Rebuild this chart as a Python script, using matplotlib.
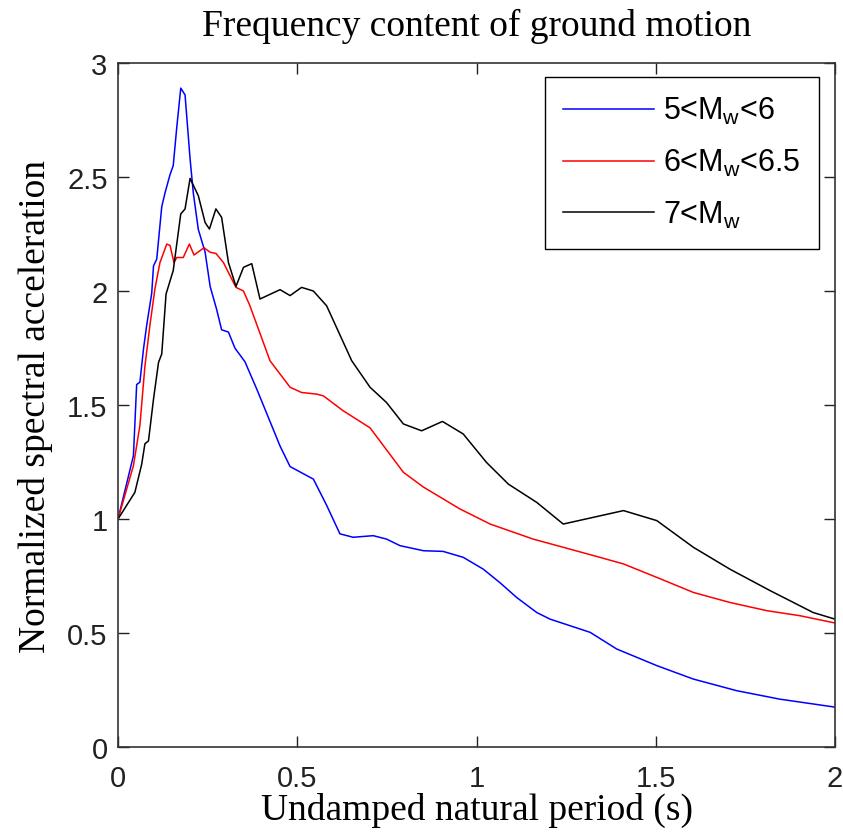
import matplotlib
matplotlib.use("Agg")
import matplotlib.pyplot as plt

# datos
t_blue = [0.0, 0.043, 0.052, 0.061, 0.071, 0.080, 0.094, 0.099, 0.108, 0.122, 0.131,
          0.145, 0.154, 0.164, 0.175, 0.187, 0.201, 0.210, 0.224, 0.243, 0.257, 0.275,
          0.289, 0.308, 0.326, 0.354, 0.387, 0.452, 0.480, 0.545, 0.582, 0.619, 0.656,
          0.712, 0.749, 0.787, 0.852, 0.907, 0.963, 1.019, 1.066, 1.112, 1.168, 1.205,
          1.317, 1.391, 1.503, 1.605, 1.726, 1.846, 2.0]
sa_blue = [1.0, 1.278, 1.59, 1.60, 1.745, 1.85, 1.99, 2.11, 2.14, 2.37, 2.43,
           2.51, 2.55, 2.72, 2.89, 2.86, 2.58, 2.43, 2.27, 2.17, 2.02, 1.92,
           1.83, 1.82, 1.75, 1.69, 1.57, 1.32, 1.23, 1.175, 1.06, 0.935, 0.92,
           0.927, 0.912, 0.883, 0.861, 0.858, 0.832, 0.78, 0.72, 0.656, 0.59, 0.561,
           0.503, 0.43, 0.357, 0.298, 0.247, 0.21, 0.175]

t_red = [0.0, 0.043, 0.061, 0.075, 0.089, 0.103, 0.117, 0.136, 0.145, 0.156, 0.164,
         0.182, 0.199, 0.212, 0.240, 0.257, 0.273, 0.294, 0.329, 0.350, 0.368, 0.424,
         0.480, 0.512, 0.554, 0.573, 0.628, 0.703, 0.796, 0.852, 0.954, 1.038, 1.158,
         1.242, 1.344, 1.41, 1.503, 1.605, 1.707, 1.81, 1.902, 2.0]
sa_red = [1.0, 1.234, 1.41, 1.67, 1.85, 2.01, 2.125, 2.206, 2.20, 2.125, 2.147,
          2.147, 2.206, 2.158, 2.19, 2.17, 2.165, 2.125, 2.016, 2.00, 1.935, 1.694,
          1.578, 1.555, 1.548, 1.54, 1.475, 1.40, 1.205, 1.14, 1.044, 0.978, 0.912,
          0.876, 0.832, 0.803, 0.744, 0.678, 0.634, 0.598, 0.576, 0.544]

t_black = [0.0, 0.047, 0.066, 0.075, 0.085, 0.099, 0.113, 0.122, 0.134, 0.154, 0.175,
           0.187, 0.201, 0.224, 0.243, 0.255, 0.273, 0.289, 0.308, 0.329, 0.350, 0.373,
           0.396, 0.452, 0.480, 0.512, 0.545, 0.582, 0.652, 0.703, 0.749, 0.796, 0.847,
           0.905, 0.963, 1.028, 1.089, 1.168, 1.242, 1.41, 1.503, 1.605, 1.707, 1.819,
           1.939, 2.0]
sa_black = [1.0, 1.117, 1.24, 1.33, 1.343, 1.526, 1.687, 1.724, 1.987, 2.09, 2.338,
            2.36, 2.494, 2.418, 2.30, 2.272, 2.36, 2.323, 2.125, 2.02, 2.104, 2.12,
            1.965, 2.006, 1.98, 2.016, 2.00, 1.935, 1.694, 1.578, 1.511, 1.417, 1.387,
            1.428, 1.373, 1.248, 1.153, 1.073, 0.978, 1.037, 0.993, 0.876, 0.78, 0.686,
            0.59, 0.561]

etiquetas = ["5<M$_{w}$<6", "6<M$_{w}$<6.5", "7<M$_{w}$"]

plt.rcParams["mathtext.default"] = "regular"
plt.rcParams["font.family"] = "Liberation Sans"

fig = plt.figure(figsize=(8.43, 8.37), dpi=100)
ax = fig.add_axes([0.140, 0.1063, 0.8505, 0.8172])

ax.plot(t_blue, sa_blue, color="blue", lw=1.1, label=etiquetas[0])
ax.plot(t_red, sa_red, color="red", lw=1.1, label=etiquetas[1])
ax.plot(t_black, sa_black, color="black", lw=1.1, label=etiquetas[2])

ax.set_xlim(0, 2)
ax.set_ylim(0, 3)
ax.set_xticks([0, 0.5, 1, 1.5, 2])
ax.set_xticklabels(["0", "0.5", "1", "1.5", "2"])
ax.set_yticks([0, 0.5, 1, 1.5, 2, 2.5, 3])
ax.set_yticklabels(["0", "0.5", "1", "1.5", "2", "2.5", "3"])
ax.tick_params(direction="in", length=8, width=1, top=True, right=True,
               labelsize=21, colors="#222222")
ax.tick_params(axis="x", pad=12)
ax.tick_params(axis="y", pad=7.5)
for s in ax.spines.values():
    s.set_linewidth(1.2)
    s.set_color("#333333")

ax.set_title("Frequency content of ground motion", family="Liberation Serif",
             fontsize=27, pad=20)
ax.set_xlabel("Undamped natural period (s)", family="Liberation Serif", fontsize=27,
              labelpad=0)
ax.set_ylabel("Normalized spectral acceleration", family="Liberation Serif",
              fontsize=27, labelpad=10)

leg = ax.legend(loc="upper right", fontsize=22, handlelength=2.97, handletextpad=0.3,
                fancybox=False, framealpha=1, edgecolor="black", borderpad=0.6,
                labelspacing=0.68, borderaxespad=0, bbox_to_anchor=(0.9777, 0.9795))
leg.get_frame().set_linewidth(1.0)

fig.savefig("out.png", dpi=100)
